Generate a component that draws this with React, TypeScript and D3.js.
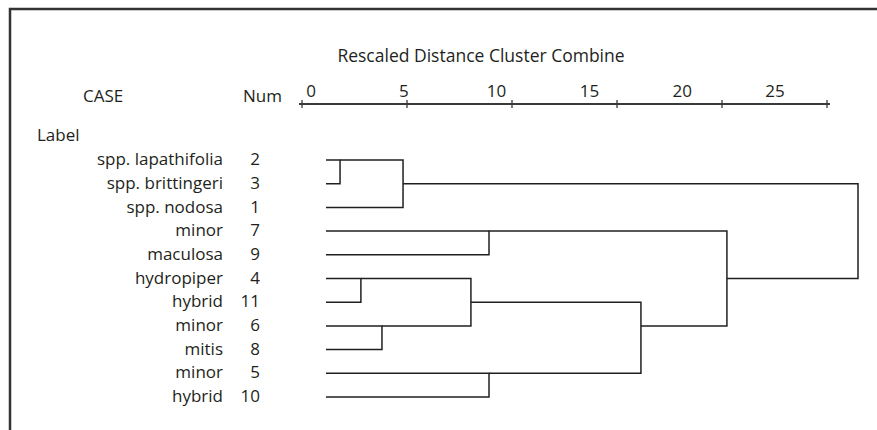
import React, { useEffect, useRef } from 'react';
import * as d3 from 'd3';

// cases in dendrogram order (top to bottom)
const caseLabels = ['spp. lapathifolia', 'spp. brittingeri', 'spp. nodosa', 'minor', 'maculosa',
    'hydropiper', 'hybrid', 'minor', 'mitis', 'minor', 'hybrid'];
const caseNums = [2, 3, 1, 7, 9, 4, 11, 6, 8, 5, 10];

// agglomeration schedule: cluster A joins cluster B at rescaled distance
const mergeA = [2, 4, 6, 2, 4, 7, 5, 4, 7, 2];
const mergeB = [3, 11, 8, 1, 6, 9, 10, 5, 4, 7];
const mergeDist = [0.66, 1.64, 2.63, 3.62, 6.81, 7.66, 7.66, 14.8, 18.84, 25];

const axisTicks = [0, 5, 10, 15, 20, 25];

export default function App() {
    const chartRef = useRef<SVGSVGElement | null>(null);

    useEffect(() => {
        if (!chartRef.current) return;
        const svg = d3.select(chartRef.current);
        svg.selectAll('*').remove();

        const ink = '#231f20';
        const font = '"Open Sans", "Liberation Sans", sans-serif';

        // frame (left and top edges only, the rest runs off the page)
        svg.append('path')
            .attr('d', 'M10,430 V9 H877')
            .attr('fill', 'none')
            .attr('stroke', '#333')
            .attr('stroke-width', 2.5);

        const x = d3.scaleLinear().domain([0, 25]).range([326, 858]);
        const y = d3.scalePoint<number>().domain(d3.range(caseNums.length)).range([160, 397]);
        const axisX = d3.scaleLinear().domain([0, 25]).range([302, 827]);
        const labelX = d3.scaleLinear().domain([0, 25]).range([311, 775]);

        const txt = (s: string, tx: number, ty: number, anchor = 'start', size = 17) =>
            svg.append('text')
                .attr('x', tx).attr('y', ty)
                .attr('text-anchor', anchor)
                .attr('font-family', font)
                .attr('font-size', size)
                .attr('fill', ink)
                .text(s);

        txt('Rescaled Distance Cluster Combine', 481, 62, 'middle', 17.5);
        txt('CASE', 83, 102);
        txt('Num', 243, 102);
        txt('Label', 37, 141);

        // axis line with crossing ticks
        const axisY = 104;
        svg.append('line')
            .attr('x1', axisX(0) - 3).attr('x2', axisX(25) + 3)
            .attr('y1', axisY).attr('y2', axisY)
            .attr('stroke', '#3a3a3a').attr('stroke-width', 2);
        svg.selectAll('.tick')
            .data(axisTicks)
            .enter().append('line')
            .attr('x1', d => axisX(d)).attr('x2', d => axisX(d))
            .attr('y1', axisY - 4).attr('y2', axisY + 4)
            .attr('stroke', '#3a3a3a').attr('stroke-width', 1.3);
        axisTicks.forEach(t => txt(String(t), labelX(t), 97, 'middle'));

        // case labels and numbers
        caseLabels.forEach((lab, i) => {
            txt(lab, 223, y(i)!, 'end').attr('dy', '0.3em');
            txt(String(caseNums[i]), 260, y(i)!, 'end').attr('dy', '0.3em');
        });

        // build dendrogram from the schedule (row snaps like SPSS text output)
        const state = new Map<number, { row: number, dist: number }>();
        caseNums.forEach((n, i) => state.set(n, { row: i, dist: 0 }));

        const links: string[] = [];
        mergeA.forEach((a, i) => {
            const A = state.get(a)!;
            const B = state.get(mergeB[i])!;
            const d = mergeDist[i];
            const p = d3.path();
            p.moveTo(x(A.dist), y(A.row)!);
            p.lineTo(x(d), y(A.row)!);
            p.lineTo(x(d), y(B.row)!);
            p.lineTo(x(B.dist), y(B.row)!);
            links.push(p.toString());
            state.set(a, { row: Math.floor((A.row + B.row) / 2), dist: d });
        });

        svg.selectAll('.link')
            .data(links)
            .enter().append('path')
            .attr('d', d => d)
            .attr('fill', 'none')
            .attr('stroke', ink)
            .attr('stroke-width', 1.5);
    }, []);

    return (
        <div style={{ position: 'absolute', left: 0, top: 0 }}>
            <svg ref={chartRef} width={877} height={430} style={{ display: 'block', background: '#fff' }}></svg>
        </div>
    );
}
